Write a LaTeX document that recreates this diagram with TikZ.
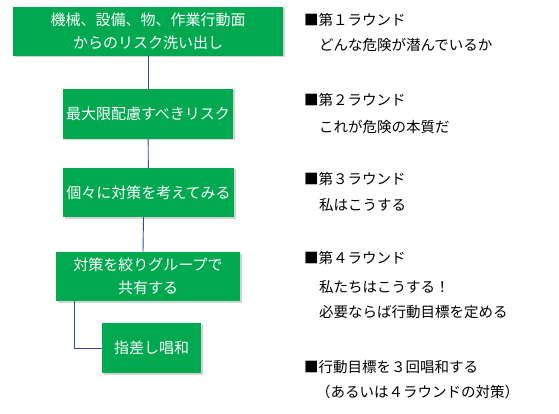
\documentclass[tikz,border=0pt]{standalone}
\usepackage{fontspec}
\newfontfamily\jpfont{Noto Sans CJK JP}
\usetikzlibrary{shadows}
\definecolor{boxgreen}{RGB}{0,168,80}
\definecolor{linkblue}{RGB}{47,74,158}
\begin{document}
\begin{tikzpicture}
  [x=1pt,y=-1pt,
   box/.style={rectangle,fill=boxgreen,text=white,align=center,inner sep=0pt,
     font=\jpfont\fontsize{15}{22.5}\selectfont,
     drop shadow={opacity=.35,shadow xshift=1.5pt,shadow yshift=-1.5pt}},
   note/.style={anchor=west,inner sep=0pt,font=\jpfont\fontsize{14.5}{17}\selectfont},
   link/.style={draw=linkblue,line width=.9pt}]
  \useasboundingbox (0,0) rectangle (559,414);

  \node[box,minimum width=270pt,minimum height=49pt] (n1) at (148,31.5)
    {機械、設備、物、作業行動面\\からのリスク洗い出し};
  \node[box,minimum width=170pt,minimum height=50pt] (n2) at (148,114) {最大限配慮すべきリスク};
  \node[box,minimum width=171pt,minimum height=49pt] (n3) at (148.5,192.5) {個々に対策を考えてみる};
  \node[box,minimum width=184pt,minimum height=49pt] (n4) at (148,276.5)
    {対策を絞りグループで\\共有する};
  \node[box,minimum width=99pt,minimum height=50pt] (n5) at (151.5,348) {指差し唱和};

  \draw[link] (n1) -- (n2);
  \draw[link] (n2) -- (n3);
  \draw[link] ([xshift=-5pt]n3.south) -- ([xshift=-5pt]n4.north);
  \draw[link] ([xshift=19pt]n4.south west) |- (n5.west);

  \node[note] (r1)  at (304,20)  {■第１ラウンド};
  \node[note] (r1a) at (319,45)  {どんな危険が潜んでいるか};
  \node[note] (r2)  at (304,100) {■第２ラウンド};
  \node[note] (r2a) at (319,127) {これが危険の本質だ};
  \node[note] (r3)  at (304,179) {■第３ラウンド};
  \node[note] (r3a) at (319,205) {私はこうする};
  \node[note] (r4)  at (304,258) {■第４ラウンド};
  \node[note] (r4a) at (319,287) {私たちはこうする！};
  \node[note] (r4b) at (319,312) {必要ならば行動目標を定める};
  \node[note] (r5)  at (304,367) {■行動目標を３回唱和する};
  \node[note] (r5a) at (316,392) {（あるいは４ラウンドの対策）};

\end{tikzpicture}
\end{document}
